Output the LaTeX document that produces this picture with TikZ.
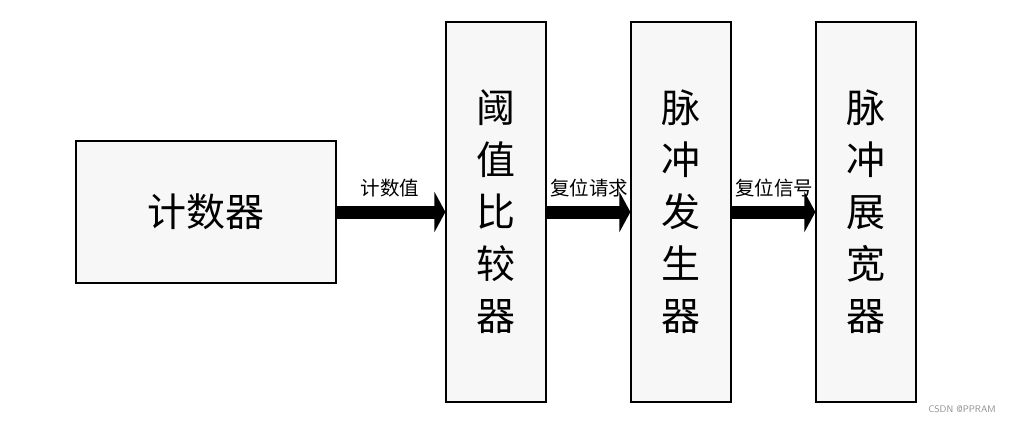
\documentclass[tikz,border=0pt]{standalone}
\usepackage{fontspec}
\newfontfamily\cjk{Noto Sans CJK SC}
\usetikzlibrary{arrows.meta}

\begin{document}
\begin{tikzpicture}[x=1pt,y=-1pt,
		block/.style={draw,line width=1.2pt,fill=black!3,inner sep=0pt},
		tall/.style={block,minimum width=100pt,minimum height=380pt,
			align=center,font=\cjk\fontsize{39}{52}\selectfont},
		bigarrow/.style={line width=13pt,-{Triangle[length=11pt,width=40pt]}},
		lbl/.style={font=\cjk\fontsize{19.5}{22}\selectfont,inner sep=0pt}]
		\useasboundingbox (0,0) rectangle (1015,423);
		\node[block,minimum width=260pt,minimum height=142pt,
			font=\cjk\fontsize{39}{44}\selectfont](cnt) at (206,212){计数器};
		\node[tall](cmp) at (496,212){阈\\值\\比\\较\\器};
		\node[tall](gen) at (681,212){脉\\冲\\发\\生\\器};
		\node[tall](ext) at (866,212){脉\\冲\\展\\宽\\器};
		\draw[bigarrow](cnt.east) -- (cmp.west);
		\draw[bigarrow](cmp.east) -- (gen.west);
		\draw[bigarrow](gen.east) -- (ext.west);
		\node[lbl] at (390,188){计数值};
		\node[lbl] at (589,188){复位请求};
		\node[lbl] at (774,188){复位信号};
		\node[font=\sffamily\fontsize{9.5}{11}\selectfont,text=black!45] at (962,409){CSDN @PPRAM};
	\end{tikzpicture}
\end{document}
